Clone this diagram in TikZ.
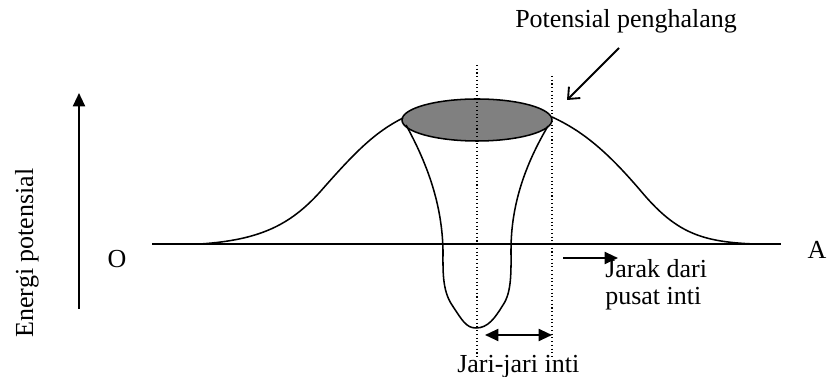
\documentclass[tikz,border=0pt]{standalone}
\usepackage{fontspec}
\setmainfont{Liberation Serif}
\usetikzlibrary{arrows.meta}
\begin{document}
\begin{tikzpicture}[
    x=0.75pt, y=-0.75pt,
    lbl/.style={font=\fontsize{19.5}{23}\selectfont, inner sep=0pt},
    crv/.style={line width=1.15pt},
    guide/.style={dotted, line width=0.8pt},
    fat/.style={-{Triangle[length=10pt,width=9pt]}, line width=1.5pt},
    dbl/.style={{Triangle[length=10pt,width=9pt]}-{Triangle[length=10pt,width=9pt]}, line width=1.5pt},
    barb/.style={-{Straight Barb[length=7pt,width=12pt]}, line width=1.4pt}
  ]
  \useasboundingbox (0,0) rectangle (833,377);
  % Labels
  \node[lbl, anchor=base west] (pot) at (515,28) {Potensial penghalang};
  \node[lbl, anchor=base west] (jari) at (457,373) {Jari-jari inti};
  \node[lbl, anchor=base west] (jarak) at (605,278) {Jarak dari};
  \node[lbl, anchor=base west] (pusat) at (605,305) {pusat inti};
  \node[lbl, anchor=base] (O) at (117,268) {O};
  \node[lbl, anchor=base] (A) at (817,259) {A};
  \node[lbl, anchor=base, rotate=90] (energi) at (33,253) {Energi potensial};
  % Axes
  \coordinate (ybot) at (79,309);
  \coordinate (ytop) at (79,93);
  \draw[fat] (ybot) -- (ytop);
  \coordinate (ax0) at (152,244);
  \coordinate (ax1) at (781,244);
  \draw[crv] (ax0) -- (ax1);
  % Barrier
  \draw[crv, fill=black!50] (477,120) ellipse [x radius=75, y radius=21];
  \draw[crv] (200,244) .. controls (260,240) and (290,225) .. (320,192)
             .. controls (355,152) and (375,132) .. (403,118);
  \draw[crv] (552,117) .. controls (585,132) and (610,155) .. (640,190)
             .. controls (675,232) and (700,242) .. (755,244);
  % Well
  \draw[crv] (406,125) .. controls (428,165) and (442,205) .. (443,250)
             .. controls (443,270) and (442,290) .. (452,305)
             .. controls (462,320) and (466,328) .. (476,328)
             .. controls (488,328) and (495,318) .. (503,305)
             .. controls (512,292) and (511,270) .. (511,250)
             .. controls (511,205) and (525,165) .. (548,126);
  % Radius guides
  \coordinate (cL) at (477,65);
  \coordinate (cLb) at (477,357);
  \coordinate (cR) at (552,76);
  \coordinate (cRb) at (552,357);
  \draw[guide] (cL) -- (cLb);
  \draw[guide] (cR) -- (cRb);
  \coordinate (r0) at (485,335);
  \coordinate (r1) at (552,335);
  \draw[dbl] (r0) -- (r1);
  % Pointers
  \coordinate (p0) at (619,48);
  \coordinate (p1) at (567,100);
  \draw[barb] (p0) -- (p1);
  \coordinate (j0) at (563,258);
  \coordinate (j1) at (618,258);
  \draw[fat] (j0) -- (j1);
\end{tikzpicture}
\end{document}
